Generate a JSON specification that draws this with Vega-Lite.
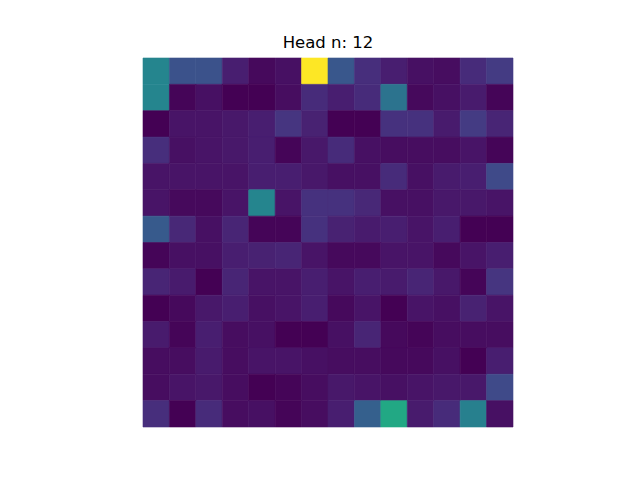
{
  "$schema": "https://vega.github.io/schema/vega-lite/v6.json",
  "width": 370,
  "height": 369,
  "autosize": {"type": "none"},
  "padding": {"left": 143, "top": 58, "right": 127, "bottom": 53},
  "background": "white",
  "view": {"stroke": null},
  "title": {"text": "Head n: 12", "font": "DejaVu Sans", "fontSize": 16.5, "fontWeight": "normal", "color": "black", "offset": 6},
  "data": {"values": [
    {"r":0,"c":0,"v":0.45},{"r":0,"c":1,"v":0.25},{"r":0,"c":2,"v":0.25},{"r":0,"c":3,"v":0.08},{"r":0,"c":4,"v":0.02},{"r":0,"c":5,"v":0.04},{"r":0,"c":6,"v":1.0},{"r":0,"c":7,"v":0.27},{"r":0,"c":8,"v":0.13},{"r":0,"c":9,"v":0.08},{"r":0,"c":10,"v":0.04},{"r":0,"c":11,"v":0.03},{"r":0,"c":12,"v":0.12},{"r":0,"c":13,"v":0.17},
    {"r":1,"c":0,"v":0.45},{"r":1,"c":1,"v":0.01},{"r":1,"c":2,"v":0.04},{"r":1,"c":3,"v":0.0},{"r":1,"c":4,"v":0.0},{"r":1,"c":5,"v":0.03},{"r":1,"c":6,"v":0.12},{"r":1,"c":7,"v":0.08},{"r":1,"c":8,"v":0.12},{"r":1,"c":9,"v":0.38},{"r":1,"c":10,"v":0.02},{"r":1,"c":11,"v":0.04},{"r":1,"c":12,"v":0.07},{"r":1,"c":13,"v":0.01},
    {"r":2,"c":0,"v":0.0},{"r":2,"c":1,"v":0.05},{"r":2,"c":2,"v":0.05},{"r":2,"c":3,"v":0.06},{"r":2,"c":4,"v":0.08},{"r":2,"c":5,"v":0.15},{"r":2,"c":6,"v":0.09},{"r":2,"c":7,"v":0.0},{"r":2,"c":8,"v":0.0},{"r":2,"c":9,"v":0.14},{"r":2,"c":10,"v":0.14},{"r":2,"c":11,"v":0.07},{"r":2,"c":12,"v":0.17},{"r":2,"c":13,"v":0.1},
    {"r":3,"c":0,"v":0.13},{"r":3,"c":1,"v":0.04},{"r":3,"c":2,"v":0.05},{"r":3,"c":3,"v":0.06},{"r":3,"c":4,"v":0.08},{"r":3,"c":5,"v":0.01},{"r":3,"c":6,"v":0.06},{"r":3,"c":7,"v":0.12},{"r":3,"c":8,"v":0.04},{"r":3,"c":9,"v":0.03},{"r":3,"c":10,"v":0.03},{"r":3,"c":11,"v":0.03},{"r":3,"c":12,"v":0.05},{"r":3,"c":13,"v":0.01},
    {"r":4,"c":0,"v":0.05},{"r":4,"c":1,"v":0.05},{"r":4,"c":2,"v":0.05},{"r":4,"c":3,"v":0.05},{"r":4,"c":4,"v":0.08},{"r":4,"c":5,"v":0.08},{"r":4,"c":6,"v":0.06},{"r":4,"c":7,"v":0.04},{"r":4,"c":8,"v":0.04},{"r":4,"c":9,"v":0.12},{"r":4,"c":10,"v":0.04},{"r":4,"c":11,"v":0.07},{"r":4,"c":12,"v":0.08},{"r":4,"c":13,"v":0.22},
    {"r":5,"c":0,"v":0.05},{"r":5,"c":1,"v":0.02},{"r":5,"c":2,"v":0.02},{"r":5,"c":3,"v":0.05},{"r":5,"c":4,"v":0.45},{"r":5,"c":5,"v":0.05},{"r":5,"c":6,"v":0.14},{"r":5,"c":7,"v":0.14},{"r":5,"c":8,"v":0.11},{"r":5,"c":9,"v":0.04},{"r":5,"c":10,"v":0.04},{"r":5,"c":11,"v":0.06},{"r":5,"c":12,"v":0.06},{"r":5,"c":13,"v":0.05},
    {"r":6,"c":0,"v":0.28},{"r":6,"c":1,"v":0.11},{"r":6,"c":2,"v":0.04},{"r":6,"c":3,"v":0.1},{"r":6,"c":4,"v":0.01},{"r":6,"c":5,"v":0.01},{"r":6,"c":6,"v":0.14},{"r":6,"c":7,"v":0.09},{"r":6,"c":8,"v":0.07},{"r":6,"c":9,"v":0.08},{"r":6,"c":10,"v":0.05},{"r":6,"c":11,"v":0.08},{"r":6,"c":12,"v":0.0},{"r":6,"c":13,"v":0.0},
    {"r":7,"c":0,"v":0.01},{"r":7,"c":1,"v":0.04},{"r":7,"c":2,"v":0.04},{"r":7,"c":3,"v":0.08},{"r":7,"c":4,"v":0.09},{"r":7,"c":5,"v":0.1},{"r":7,"c":6,"v":0.05},{"r":7,"c":7,"v":0.02},{"r":7,"c":8,"v":0.02},{"r":7,"c":9,"v":0.05},{"r":7,"c":10,"v":0.05},{"r":7,"c":11,"v":0.02},{"r":7,"c":12,"v":0.05},{"r":7,"c":13,"v":0.08},
    {"r":8,"c":0,"v":0.1},{"r":8,"c":1,"v":0.07},{"r":8,"c":2,"v":0.0},{"r":8,"c":3,"v":0.1},{"r":8,"c":4,"v":0.05},{"r":8,"c":5,"v":0.05},{"r":8,"c":6,"v":0.08},{"r":8,"c":7,"v":0.05},{"r":8,"c":8,"v":0.08},{"r":8,"c":9,"v":0.07},{"r":8,"c":10,"v":0.1},{"r":8,"c":11,"v":0.06},{"r":8,"c":12,"v":0.01},{"r":8,"c":13,"v":0.15},
    {"r":9,"c":0,"v":0.0},{"r":9,"c":1,"v":0.02},{"r":9,"c":2,"v":0.06},{"r":9,"c":3,"v":0.08},{"r":9,"c":4,"v":0.04},{"r":9,"c":5,"v":0.05},{"r":9,"c":6,"v":0.08},{"r":9,"c":7,"v":0.02},{"r":9,"c":8,"v":0.05},{"r":9,"c":9,"v":0.0},{"r":9,"c":10,"v":0.05},{"r":9,"c":11,"v":0.04},{"r":9,"c":12,"v":0.09},{"r":9,"c":13,"v":0.05},
    {"r":10,"c":0,"v":0.07},{"r":10,"c":1,"v":0.01},{"r":10,"c":2,"v":0.08},{"r":10,"c":3,"v":0.03},{"r":10,"c":4,"v":0.04},{"r":10,"c":5,"v":0.0},{"r":10,"c":6,"v":0.0},{"r":10,"c":7,"v":0.04},{"r":10,"c":8,"v":0.1},{"r":10,"c":9,"v":0.02},{"r":10,"c":10,"v":0.01},{"r":10,"c":11,"v":0.03},{"r":10,"c":12,"v":0.03},{"r":10,"c":13,"v":0.03},
    {"r":11,"c":0,"v":0.03},{"r":11,"c":1,"v":0.03},{"r":11,"c":2,"v":0.07},{"r":11,"c":3,"v":0.03},{"r":11,"c":4,"v":0.05},{"r":11,"c":5,"v":0.05},{"r":11,"c":6,"v":0.04},{"r":11,"c":7,"v":0.03},{"r":11,"c":8,"v":0.03},{"r":11,"c":9,"v":0.02},{"r":11,"c":10,"v":0.02},{"r":11,"c":11,"v":0.04},{"r":11,"c":12,"v":0.0},{"r":11,"c":13,"v":0.08},
    {"r":12,"c":0,"v":0.03},{"r":12,"c":1,"v":0.05},{"r":12,"c":2,"v":0.06},{"r":12,"c":3,"v":0.03},{"r":12,"c":4,"v":0.0},{"r":12,"c":5,"v":0.01},{"r":12,"c":6,"v":0.03},{"r":12,"c":7,"v":0.06},{"r":12,"c":8,"v":0.05},{"r":12,"c":9,"v":0.04},{"r":12,"c":10,"v":0.05},{"r":12,"c":11,"v":0.06},{"r":12,"c":12,"v":0.06},{"r":12,"c":13,"v":0.22},
    {"r":13,"c":0,"v":0.13},{"r":13,"c":1,"v":0.0},{"r":13,"c":2,"v":0.12},{"r":13,"c":3,"v":0.03},{"r":13,"c":4,"v":0.04},{"r":13,"c":5,"v":0.01},{"r":13,"c":6,"v":0.03},{"r":13,"c":7,"v":0.08},{"r":13,"c":8,"v":0.3},{"r":13,"c":9,"v":0.6},{"r":13,"c":10,"v":0.07},{"r":13,"c":11,"v":0.12},{"r":13,"c":12,"v":0.43},{"r":13,"c":13,"v":0.04}
  ]},
  "mark": {"type": "rect", "strokeWidth": 0.6},
  "encoding": {
    "x": {"field": "c", "type": "ordinal", "axis": null, "scale": {"paddingInner": 0, "paddingOuter": 0}},
    "y": {"field": "r", "type": "ordinal", "axis": null, "scale": {"paddingInner": 0, "paddingOuter": 0}},
    "color": {"field": "v", "type": "quantitative", "legend": null, "scale": {"scheme": "viridis", "domain": [0, 1]}},
    "stroke": {"field": "v", "type": "quantitative", "legend": null, "scale": {"scheme": "viridis", "domain": [0, 1]}}
  }
}
